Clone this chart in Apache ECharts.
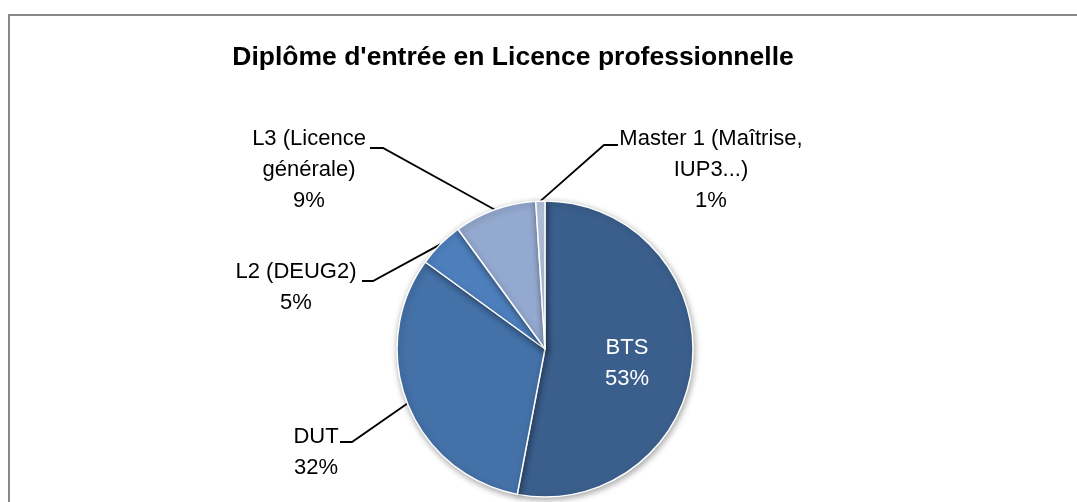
<!DOCTYPE html>
<html><head><meta charset="utf-8">
<script src="https://cdn.jsdelivr.net/npm/echarts@6/dist/echarts.min.js"></script>
<style>html,body{margin:0;padding:0;background:#fff}#c{width:1077px;height:502px}</style>
</head><body><div id="c"></div>
<script>
const categories = ['BTS', 'DUT', 'L2 (DEUG2)', 'L3 (Licence\ngénérale)', 'Master 1 (Maîtrise,\nIUP3...)'];
const values = [53, 32, 5, 9, 1];
const colors = ['#3B5F8D', '#4471A8', '#4E7FBD', '#94A9CF', '#B9C8E3'];
const titleText = "Diplôme d'entrée en Licence professionnelle";

// layout only: label block centres and leader-line bend/end points
const labelPos = [[627, 363], [316, 452], [296, 287], [309, 170], [711, 170]];
const leaderPts = [null, [[352, 442], [340, 442]], [[373, 281], [362, 281]], [[383, 148], [370, 148]], [[604, 145], [618, 145]]];

const LABEL_FONT = '"Liberation Sans", Arial, sans-serif';
const TITLE_FONT = '"Liberation Sans", Arial, sans-serif';

const chart = echarts.init(document.getElementById('c'), null, {renderer: 'canvas'});
const data = categories.map((name, i) => {
  const d = {name: name, value: values[i], itemStyle: {color: colors[i]}};
  if (i === 0) {
    d.label = {position: 'inside', color: '#fff'};
    d.labelLine = {show: false};
  }
  return d;
});

chart.setOption({
  animation: false,
  backgroundColor: '#fff',
  title: {
    text: titleText,
    left: 513, top: 39, textAlign: 'center',
    textStyle: {fontFamily: TITLE_FONT, fontSize: 26.5, fontWeight: 'bold', color: '#000'}
  },
  graphic: [{
    type: 'rect', silent: true, z: -1,
    shape: {x: 9, y: 15, width: 1200, height: 600},
    style: {fill: 'none', stroke: '#878787', lineWidth: 2}
  }],
  series: [{
    type: 'pie',
    center: [545, 349],
    radius: 148,
    startAngle: 90,
    clockwise: true,
    avoidLabelOverlap: false,
    data: data,
    itemStyle: {
      borderColor: '#fff', borderWidth: 1.5,
      shadowBlur: 6, shadowOffsetX: 1, shadowOffsetY: 2, shadowColor: 'rgba(0,0,0,0.35)'
    },
    label: {
      show: true, position: 'outside',
      formatter: p => p.name + '\n' + Math.round(p.percent) + '%',
      fontFamily: LABEL_FONT, fontSize: 22, lineHeight: 31, color: '#000',
      align: 'center'
    },
    labelLine: {show: true, length: 10, length2: 10, lineStyle: {color: '#000', width: 1.8}},
    labelLayout: function (p) {
      const i = p.dataIndex;
      const out = {x: labelPos[i][0], y: labelPos[i][1], align: 'center', verticalAlign: 'middle'};
      if (leaderPts[i] && p.labelLinePoints) {
        out.labelLinePoints = [p.labelLinePoints[0], leaderPts[i][0], leaderPts[i][1]];
      }
      return out;
    },
    emphasis: {disabled: true}
  }]
});
chart.setOption({title: {left: 508}});
</script>
</body></html>
